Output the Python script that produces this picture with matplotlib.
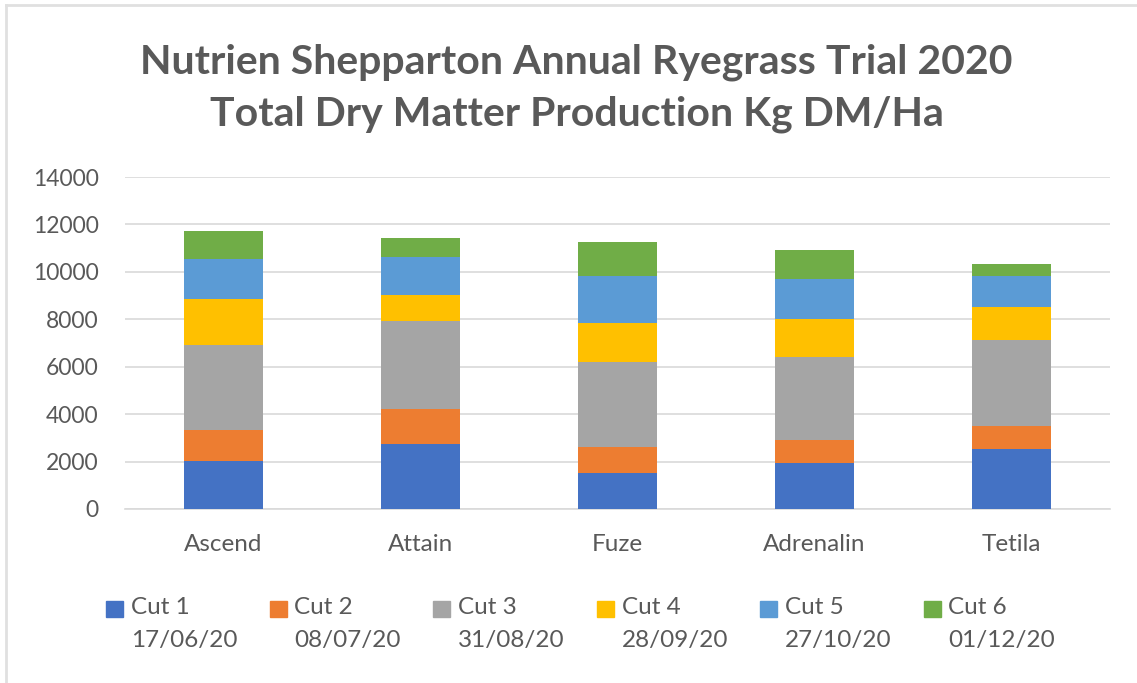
import numpy as np
import matplotlib.pyplot as plt
from matplotlib.patches import Rectangle
from matplotlib.lines import Line2D

plt.rcParams['font.family'] = ['Lato', 'DejaVu Sans']

varieties = ["Ascend", "Attain", "Fuze", "Adrenalin", "Tetila"]
cut_names = ["Cut 1", "Cut 2", "Cut 3", "Cut 4", "Cut 5", "Cut 6"]
cut_dates = ["17/06/20", "08/07/20", "31/08/20", "28/09/20", "27/10/20", "01/12/20"]

cut1 = [2020, 2740, 1520, 1940, 2530]
cut2 = [1310, 1470, 1090, 970, 960]
cut3 = [3580, 3710, 3580, 3490, 3630]
cut4 = [1930, 1090, 1640, 1600, 1390]
cut5 = [1690, 1600, 1980, 1680, 1300]
cut6 = [1180, 800, 1470, 1230, 510]

colors = ["#4472C4", "#ED7D31", "#A5A5A5", "#FFC000", "#5B9BD5", "#70AD47"]
txt = "#595959"

fig = plt.figure(figsize=(11.37, 6.83), dpi=100)
ax = fig.add_axes([0.110, 0.2548, 0.866, 0.486])

x = np.arange(len(varieties))
bottom = np.zeros(len(varieties))
for vals, c in zip([cut1, cut2, cut3, cut4, cut5, cut6], colors):
    ax.bar(x, vals, width=0.4, bottom=bottom, color=c, zorder=3)
    bottom += np.array(vals)

ax.set_xlim(-0.5, len(varieties) - 0.5)
ax.set_ylim(0, 14000)
ax.set_yticks(range(0, 14001, 2000))
ax.set_xticks(x)
ax.set_xticklabels(varieties)
ax.yaxis.grid(True, color="#D9D9D9", linewidth=1.2)
ax.tick_params(axis="y", length=0, labelsize=16.5, colors=txt, pad=19)
ax.tick_params(axis="x", length=0, labelsize=17.5, colors=txt, pad=18)
for s in ["top", "right", "left"]:
    ax.spines[s].set_visible(False)
ax.spines["bottom"].set_color("#D9D9D9")
ax.spines["bottom"].set_linewidth(1.2)

fig.text(0.507, 1 - 62 / 683, "Nutrien Shepparton Annual Ryegrass Trial 2020",
         ha="center", va="center", fontsize=29.5, fontweight="bold", color=txt)
fig.text(0.507, 1 - 114 / 683, "Total Dry Matter Production Kg DM/Ha",
         ha="center", va="center", fontsize=29.5, fontweight="bold", color=txt)

# legend laid out like the spreadsheet one
W, H = 1137, 683
for i, (n, d, c) in enumerate(zip(cut_names, cut_dates, colors)):
    lx = 106 + i * 163.5
    fig.patches.append(Rectangle((lx / W, 1 - 617 / H), 17 / W, 16 / H,
                                 transform=fig.transFigure, color=c))
    fig.text((lx + 25) / W, 1 - 607 / H, n, ha="left", va="center",
             fontsize=17.5, color=txt)
    fig.text((lx + 25) / W, 1 - 641 / H, d, ha="left", va="center",
             fontsize=17.5, color=txt)

# light frame at top and left
fig.add_artist(Line2D([6 / W, 1], [1 - 5 / H, 1 - 5 / H], color="#E0E0E0", lw=2))
fig.add_artist(Line2D([6 / W, 6 / W], [0, 1 - 5 / H], color="#E0E0E0", lw=2))

fig.savefig("out.png", dpi=100)
